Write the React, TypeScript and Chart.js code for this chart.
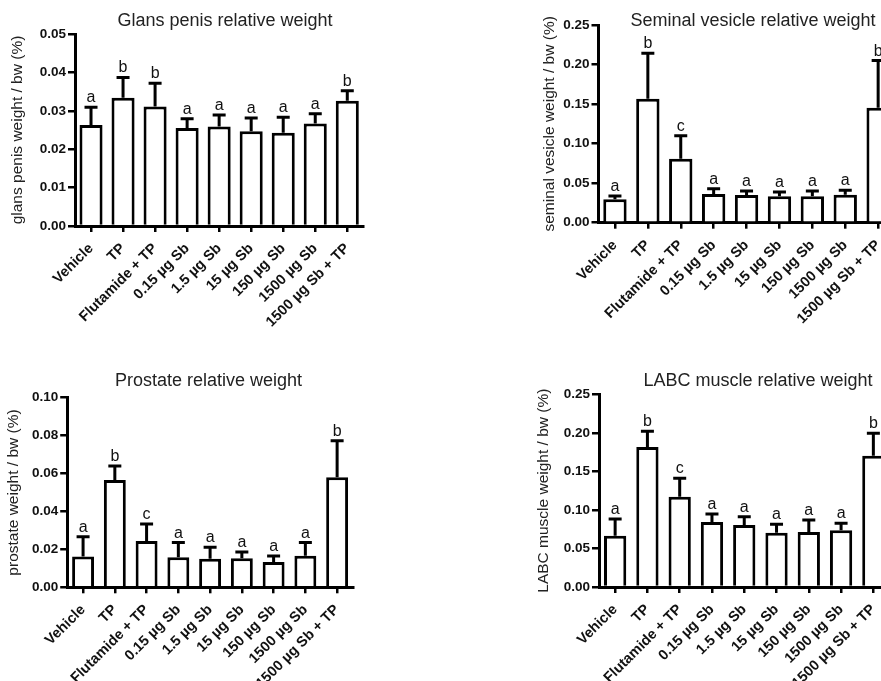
import React, { useEffect, useRef } from "react";
import { Chart, registerables } from "chart.js";

Chart.register(...registerables);

// ---------- data ----------
const CATEGORIES = [
  "Vehicle",
  "TP",
  "Flutamide + TP",
  "0.15 µg Sb",
  "1.5 µg Sb",
  "15 µg Sb",
  "150 µg Sb",
  "1500 µg Sb",
  "1500 µg Sb + TP",
];

const GLANS_MEAN = [0.0263, 0.0334, 0.0311, 0.0255, 0.0259, 0.0247, 0.0243, 0.0267, 0.0326];
const GLANS_ERR = [0.0046, 0.0053, 0.0061, 0.0024, 0.003, 0.0034, 0.004, 0.0025, 0.0026];
const GLANS_LETTERS = ["a", "b", "b", "a", "a", "a", "a", "a", "b"];
const GLANS_TICKS = [0, 0.01, 0.02, 0.03, 0.04, 0.05];

const SEMINAL_MEAN = [0.0295, 0.1568, 0.081, 0.0363, 0.035, 0.0333, 0.0333, 0.0354, 0.1454];
const SEMINAL_ERR = [0.0042, 0.0574, 0.029, 0.0067, 0.005, 0.0055, 0.0067, 0.0055, 0.0596];
const SEMINAL_LETTERS = ["a", "b", "c", "a", "a", "a", "a", "a", "b"];
const SEMINAL_TICKS = [0, 0.05, 0.1, 0.15, 0.2, 0.25];

const PROSTATE_MEAN = [0.0162, 0.0566, 0.0244, 0.0158, 0.0151, 0.0153, 0.0134, 0.0167, 0.058];
const PROSTATE_ERR = [0.0105, 0.0074, 0.009, 0.0078, 0.006, 0.0033, 0.0031, 0.0069, 0.0193];
const PROSTATE_LETTERS = ["a", "b", "c", "a", "a", "a", "a", "a", "b"];
const PROSTATE_TICKS = [0, 0.02, 0.04, 0.06, 0.08, 0.1];

const LABC_MEAN = [0.0666, 0.1817, 0.1172, 0.0843, 0.0804, 0.0705, 0.0714, 0.0735, 0.1704];
const LABC_ERR = [0.0216, 0.0203, 0.0238, 0.0104, 0.0109, 0.0108, 0.0155, 0.0091, 0.029];
const LABC_LETTERS = ["a", "b", "c", "a", "a", "a", "a", "a", "b"];
const LABC_TICKS = [0, 0.05, 0.1, 0.15, 0.2, 0.25];

// ---------- layout / style ----------
const FONT = "'Liberation Sans', Arial, Helvetica, sans-serif";

type PanelDef = {
  title: string;
  yTitle: string;
  means: number[];
  errs: number[];
  letters: string[];
  ticks: number[];
  left: number;
  top: number;
  w: number;
  h: number;
  yWidth: number;
  xHeight: number;
  padRight: number;
  padTop: number;
  titleX: number;
  titleY: number;
  yTitlePad: number;
  barPct: number;
};

const PANELS: PanelDef[] = [
  {
    title: "Glans penis relative weight",
    yTitle: "glans penis weight / bw (%)",
    means: GLANS_MEAN,
    errs: GLANS_ERR,
    letters: GLANS_LETTERS,
    ticks: GLANS_TICKS,
    left: 0,
    top: 0,
    w: 450,
    h: 345,
    yWidth: 75,
    xHeight: 119,
    padRight: 86.7,
    padTop: 34,
    titleX: 225,
    titleY: 21,
    yTitlePad: 8.7,
    barPct: 0.72,
  },
  {
    title: "Seminal vesicle relative weight",
    yTitle: "seminal vesicle weight / bw (%)",
    means: SEMINAL_MEAN,
    errs: SEMINAL_ERR,
    letters: SEMINAL_LETTERS,
    ticks: SEMINAL_TICKS,
    left: 520,
    top: 0,
    w: 466,
    h: 345,
    yWidth: 78.5,
    xHeight: 122.3,
    padRight: 91.4,
    padTop: 25,
    titleX: 233,
    titleY: 21,
    yTitlePad: 20.7,
    barPct: 0.71,
  },
  {
    title: "Prostate relative weight",
    yTitle: "prostate weight / bw (%)",
    means: PROSTATE_MEAN,
    errs: PROSTATE_ERR,
    letters: PROSTATE_LETTERS,
    ticks: PROSTATE_TICKS,
    left: 0,
    top: 345,
    w: 417,
    h: 336,
    yWidth: 67.2,
    xHeight: 93.7,
    padRight: 64,
    padTop: 52.7,
    titleX: 208.5,
    titleY: 36,
    yTitlePad: 4,
    barPct: 0.69,
  },
  {
    title: "LABC muscle relative weight",
    yTitle: "LABC muscle weight / bw (%)",
    means: LABC_MEAN,
    errs: LABC_ERR,
    letters: LABC_LETTERS,
    ticks: LABC_TICKS,
    left: 520,
    top: 345,
    w: 476,
    h: 336,
    yWidth: 79,
    xHeight: 94,
    padRight: 106.5,
    padTop: 49.3,
    titleX: 238,
    titleY: 36,
    yTitlePad: 14,
    barPct: 0.69,
  },
];

function panelPlugin(p: PanelDef) {
  return {
    id: "panelExtras",
    afterDatasetsDraw(chart: any) {
      const { ctx } = chart;
      const x = chart.scales.x;
      const y = chart.scales.y;
      ctx.save();
      ctx.strokeStyle = "#000";
      ctx.lineWidth = 3;
      ctx.lineCap = "butt";
      p.means.forEach((m, i) => {
        const px = x.getPixelForValue(i);
        const yM = y.getPixelForValue(m);
        const yT = y.getPixelForValue(m + p.errs[i]);
        ctx.beginPath();
        ctx.moveTo(px, yM);
        ctx.lineTo(px, yT);
        ctx.moveTo(px - 6.5, yT);
        ctx.lineTo(px + 6.5, yT);
        ctx.stroke();
        ctx.fillStyle = "#111";
        ctx.font = `16px ${FONT}`;
        ctx.textAlign = "center";
        ctx.textBaseline = "alphabetic";
        ctx.fillText(p.letters[i], px, yT - 5);
      });
      ctx.restore();
    },
    afterDraw(chart: any) {
      const { ctx } = chart;
      ctx.save();
      ctx.fillStyle = "#222";
      ctx.font = `18px ${FONT}`;
      ctx.textAlign = "center";
      ctx.textBaseline = "middle";
      ctx.fillText(p.title, p.titleX, p.titleY);
      ctx.restore();
    },
  };
}

function makeConfig(p: PanelDef): any {
  const maxV = p.ticks[p.ticks.length - 1];
  return {
    type: "bar",
    data: {
      labels: CATEGORIES,
      datasets: [
        {
          data: p.means,
          backgroundColor: "#ffffff",
          borderColor: "#000000",
          borderWidth: 3,
          borderSkipped: "start",
          barPercentage: p.barPct,
          categoryPercentage: 1,
        },
      ],
    },
    options: {
      responsive: false,
      animation: false,
      devicePixelRatio: 1,
      layout: { padding: { left: 0, right: p.padRight, top: p.padTop, bottom: 0 } },
      plugins: {
        legend: { display: false },
        tooltip: { enabled: false },
        title: { display: false },
      },
      scales: {
        x: {
          type: "category",
          offset: true,
          grid: {
            display: true,
            drawOnChartArea: false,
            drawTicks: true,
            tickLength: 6,
            offset: false,
            color: "#000",
            lineWidth: 2.5,
          },
          border: { display: true, color: "#000", width: 3 },
          ticks: {
            autoSkip: false,
            minRotation: 45,
            maxRotation: 45,
            color: "#111",
            padding: 8,
            font: { family: FONT, size: 14.5, weight: "bold" },
          },
          afterFit: (s: any) => {
            s.height = p.xHeight;
          },
        },
        y: {
          min: 0,
          max: maxV,
          grid: {
            display: true,
            drawOnChartArea: false,
            drawTicks: true,
            tickLength: 7,
            color: "#000",
            lineWidth: 2.5,
          },
          border: { display: true, color: "#000", width: 3 },
          ticks: {
            color: "#111",
            padding: 2,
            font: { family: FONT, size: 13.5, weight: "bold" },
            callback: (v: any) => Number(v).toFixed(2),
          },
          afterBuildTicks: (s: any) => {
            s.ticks = p.ticks.map((v) => ({ value: v }));
          },
          afterFit: (s: any) => {
            s.width = p.yWidth;
          },
          title: {
            display: true,
            text: p.yTitle,
            color: "#222",
            font: { family: FONT, size: 15.5, weight: "normal" },
            padding: { top: p.yTitlePad, bottom: 0 },
          },
        },
      },
    },
    plugins: [panelPlugin(p)],
  };
}

function Panel({ p }: { p: PanelDef }) {
  const ref = useRef<HTMLCanvasElement | null>(null);
  useEffect(() => {
    if (!ref.current) return;
    const chart = new Chart(ref.current, makeConfig(p));
    return () => chart.destroy();
  }, [p]);
  return (
    <canvas
      ref={ref}
      width={p.w}
      height={p.h}
      style={{ position: "absolute", left: p.left, top: p.top, width: p.w, height: p.h }}
    />
  );
}

export default function App() {
  return (
    <div
      style={{
        position: "fixed",
        left: 0,
        top: 0,
        width: 881,
        height: 681,
        overflow: "hidden",
        background: "#ffffff",
      }}
    >
      {PANELS.map((p, i) => (
        <Panel key={i} p={p} />
      ))}
    </div>
  );
}
